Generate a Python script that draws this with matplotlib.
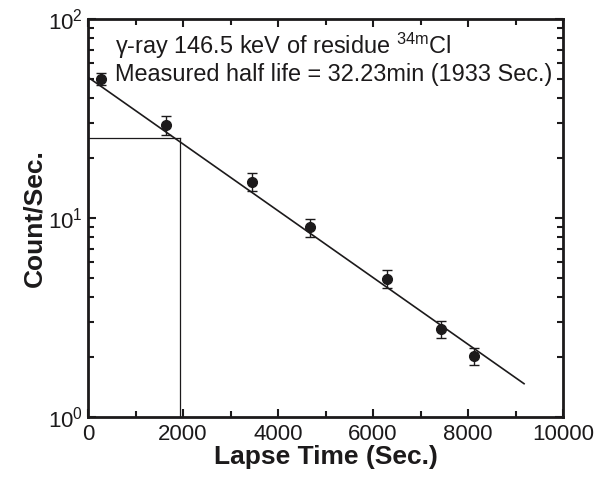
import numpy as np
import matplotlib
matplotlib.use("Agg")
import matplotlib.pyplot as plt
from matplotlib.ticker import MultipleLocator, LogLocator, NullFormatter

plt.rcParams['font.family'] = ['Liberation Sans', 'DejaVu Sans']
plt.rcParams['mathtext.fontset'] = 'custom'
plt.rcParams['mathtext.rm'] = 'Liberation Sans'
plt.rcParams['mathtext.it'] = 'Liberation Sans'

# measured points
lapse_time = [270, 1640, 3450, 4670, 6290, 7430, 8130]
counts = [50.0, 29.3, 15.2, 9.0, 4.95, 2.77, 2.03]
count_err = [3.5, 3.1, 1.6, 0.93, 0.5, 0.27, 0.2]

# fitted decay line end points
fit_time = [0, 9180]
fit_counts = [51.0, 1.47]

# half life marker
half_life = 1933
half_count = 25.3

ink = '#1c1a1b'

fig = plt.figure(figsize=(6.05, 4.78), dpi=100)
ax = fig.add_axes([88 / 605, 61 / 478, 475 / 605, 398 / 478])

ax.plot(fit_time, fit_counts, color=ink, lw=1.2, zorder=2)
ax.plot([0, half_life], [half_count, half_count], color=ink, lw=0.9, zorder=1)
ax.plot([half_life, half_life], [1, half_count], color=ink, lw=0.9, zorder=1)
ax.errorbar(lapse_time, counts, yerr=count_err, fmt='o', color=ink, ms=7,
            capsize=3.5, elinewidth=1.0, capthick=1.0, zorder=3)

ax.set_yscale('log')
ax.set_xlim(0, 10000)
ax.set_ylim(1, 100)
ax.xaxis.set_major_locator(MultipleLocator(2000))
ax.xaxis.set_minor_locator(MultipleLocator(1000))
ax.yaxis.set_major_locator(LogLocator(base=10))
ax.yaxis.set_minor_locator(LogLocator(base=10, subs=np.arange(2, 10)))
ax.yaxis.set_minor_formatter(NullFormatter())

ax.tick_params(which='both', direction='in', top=True, right=True,
               color=ink, labelcolor=ink, labelsize=16)
ax.tick_params(axis='x', pad=5)
ax.tick_params(which='major', length=6, width=1.5)
ax.tick_params(which='minor', length=4, width=1.5)
for s in ax.spines.values():
    s.set_linewidth(2.0)
    s.set_color(ink)

ax.set_xlabel('Lapse Time (Sec.)', fontsize=19, fontweight='bold', color=ink, labelpad=0)
ax.set_ylabel('Count/Sec.', fontsize=19, fontweight='bold', color=ink, labelpad=1)

ax.text(0.057, 0.912, r'γ-ray 146.5 keV of residue $^{\mathrm{34m}}$Cl',
        transform=ax.transAxes, fontsize=16.9, color=ink, va='baseline')
ax.text(0.057, 0.845, 'Measured half life = 32.23min (1933 Sec.)',
        transform=ax.transAxes, fontsize=16.9, color=ink, va='baseline')

fig.savefig('out.png', dpi=100)
